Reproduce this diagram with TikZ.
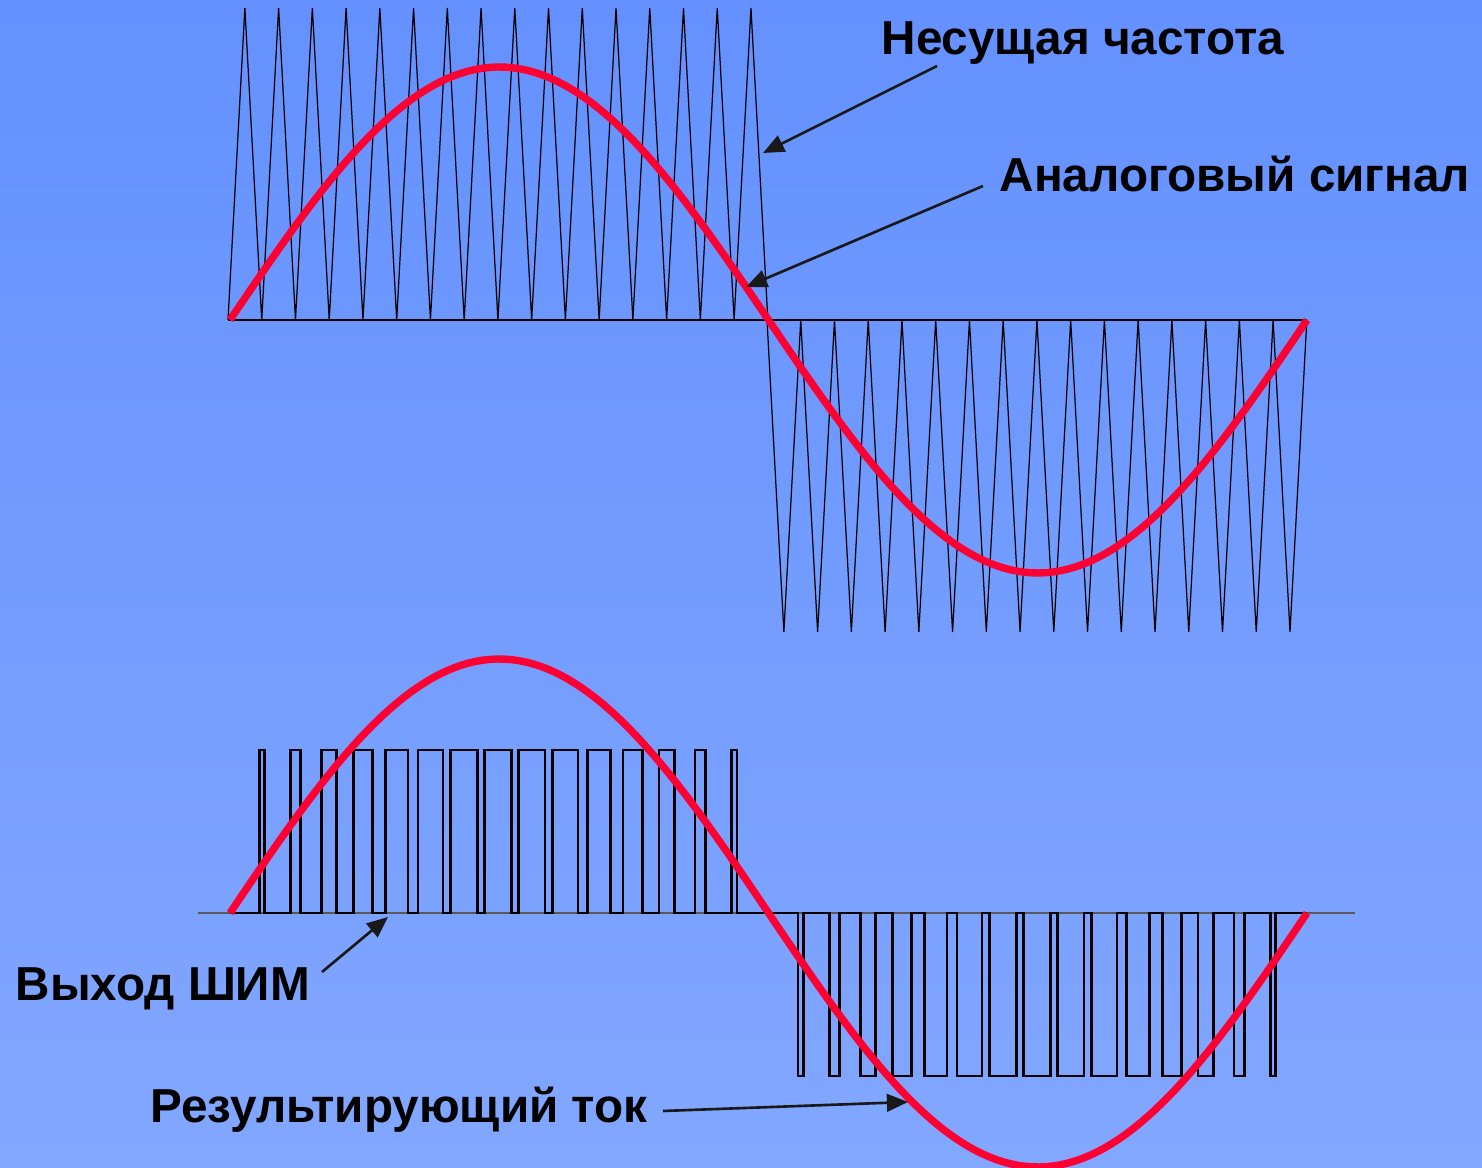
\documentclass[tikz,border=0pt]{standalone}
\usepackage{fontspec}
\setmainfont{Liberation Sans}
\usetikzlibrary{arrows.meta}
\definecolor{bgtop}{RGB}{100,145,255}
\definecolor{bgbot}{RGB}{130,167,255}
\definecolor{sigred}{RGB}{255,0,51}
\begin{document}
\begin{tikzpicture}[
  x=0.01cm, y=-0.01cm,
  lbl/.style={font=\bfseries\fontsize{13.55}{16}\selectfont, inner sep=0pt, anchor=base west},
  sig/.style={draw=sigred, line width=2.1pt, line join=round},
  carrier/.style={draw=black, line width=0.35pt},
  pwm/.style={draw=black, line width=0.75pt},
  pointer/.style={draw=black!90, line width=0.75pt, -{Triangle[length=6pt,width=5pt]}}
]
\useasboundingbox (0,0) rectangle (1482,1168);
\shade[top color=bgtop, bottom color=bgbot] (0,0) rectangle (1482,1168);
\draw[carrier] (228,320) \foreach \k in {0,...,15} { -- ({228+(\k+0.5)*33.74},8) -- ({228+(\k+1)*33.74},320) };
\draw[carrier] (767,320) \foreach \k in {0,...,15} { -- ({767+(\k+0.5)*33.74},632) -- ({767+(\k+1)*33.74},320) };
\draw[line width=0.5pt] (228,320) -- (1307,320);
\draw[black!65, line width=0.4pt] (198,913) -- (1355,913);
\draw[pwm] (230,913)
  \foreach \k [evaluate=\k as \v using 228+\k*33.74, evaluate=\k as \w using 13.66*sin((\k*33.74-2)/538.5*180)] in {1,...,15}
    { -- (\v-\w,913) -- (\v-\w,750) -- (\v+\w,750) -- (\v+\w,913) }
  -- (767,913)
  \foreach \k [evaluate=\k as \v using 767+\k*33.74, evaluate=\k as \w using 13.66*sin((\k*33.74-1)/538.5*180)] in {1,...,15}
    { -- (\v-\w,913) -- (\v-\w,1076) -- (\v+\w,1076) -- (\v+\w,913) }
  -- (1307,913);
\draw[sig] plot[domain=230:1307, samples=150] (\x,{320-253*sin((\x-230)/538.5*180)});
\draw[sig] plot[domain=230:1307, samples=150] (\x,{913-254*sin((\x-230)/538.5*180)});
\node[lbl] (carlbl) at (881,55) {Несущая частота};
\node[lbl] (siglbl) at (999,192) {Аналоговый сигнал};
\node[lbl] (pwmlbl) at (15,1001) {Выход ШИМ};
\node[lbl] (curlbl) at (150,1123) {Результирующий ток};
\coordinate (carfrom) at (937,66);
\coordinate (carto) at (763,153);
\coordinate (sigfrom) at (983,186);
\coordinate (sigto) at (746,287);
\coordinate (pwmfrom) at (322,972);
\coordinate (pwmto) at (388,917);
\coordinate (curfrom) at (663,1111);
\coordinate (curto) at (908,1102);
\draw[pointer] (carfrom) -- (carto);
\draw[pointer] (sigfrom) -- (sigto);
\draw[pointer] (pwmfrom) -- (pwmto);
\draw[pointer] (curfrom) -- (curto);
\end{tikzpicture}
\end{document}
